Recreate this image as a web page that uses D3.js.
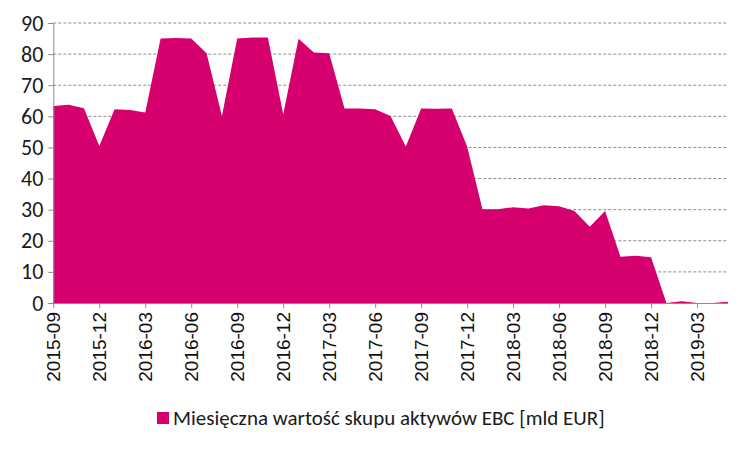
<!DOCTYPE html>
<html><head><meta charset="utf-8">
<script src="https://cdn.jsdelivr.net/npm/d3@7"></script>
<style>
html,body{margin:0;padding:0;background:#fff;}
svg{display:block;}
</style></head>
<body>
<script>
const months = ["2015-09","2015-10","2015-11","2015-12","2016-01","2016-02","2016-03","2016-04","2016-05","2016-06","2016-07","2016-08","2016-09","2016-10","2016-11","2016-12","2017-01","2017-02","2017-03","2017-04","2017-05","2017-06","2017-07","2017-08","2017-09","2017-10","2017-11","2017-12","2018-01","2018-02","2018-03","2018-04","2018-05","2018-06","2018-07","2018-08","2018-09","2018-10","2018-11","2018-12","2019-01","2019-02","2019-03","2019-04","2019-05"];
const values = [63.3,63.7,62.6,50.5,62.3,62.0,61.2,85.0,85.2,85.0,80.3,60.1,85.0,85.3,85.3,60.7,84.9,80.5,80.3,62.5,62.5,62.3,60.1,50.3,62.5,62.4,62.5,50.3,30.1,30.1,30.8,30.4,31.4,31.1,29.6,24.5,29.6,14.9,15.2,14.7,0,0.6,0,0,0.4];
const yTicks = [0,10,20,30,40,50,60,70,80,90];
const tickMonths = months.filter((m,i)=>i%3===0);
const seriesName = "Miesięczna wartość skupu aktywów EBC [mld EUR]";

const W=750,H=450;
const svg=d3.select("body").append("svg").attr("width",W).attr("height",H);
const x=d3.scalePoint().domain(months).range([53.3,727.7]);
const y=d3.scaleLinear().domain([0,90]).range([303,23]);
const color="#d5006d";

// grid
svg.append("g").selectAll("line").data(yTicks.filter(d=>d>0)).join("line")
  .attr("x1",53.3).attr("x2",727.7).attr("y1",d=>y(d)).attr("y2",d=>y(d))
  .attr("stroke","#8c8c8c").attr("stroke-width",1).attr("stroke-dasharray","3,2");

// area
const area=d3.area().x((d,i)=>x(months[i])).y0(y(0)).y1(d=>y(d));
svg.append("path").datum(values).attr("d",area).attr("fill",color);

// y axis
const ya=svg.append("g").attr("transform","translate(53.3,0)")
  .call(d3.axisLeft(y).tickValues(yTicks).tickSize(5).tickPadding(5));
ya.select(".domain").attr("stroke","#8c8c8c");
ya.selectAll(".tick line").attr("stroke","#8c8c8c");
ya.selectAll("text").attr("font-family","Carlito, Calibri, 'Liberation Sans Narrow', 'Open Sans', sans-serif")
  .attr("font-size",22).attr("fill","#1a1a1a");

// x axis
const xa=svg.append("g").attr("transform","translate(0,303)")
  .call(d3.axisBottom(x).tickValues(tickMonths).tickSize(5).tickSizeOuter(0));
xa.select(".domain").attr("stroke","#8c8c8c");
xa.selectAll(".tick line").attr("stroke","#8c8c8c");
xa.selectAll("text").attr("font-family","'Liberation Sans', Arial, sans-serif")
  .attr("font-size",19).attr("fill","#111")
  .attr("transform","rotate(-90)").attr("text-anchor","end")
  .attr("x",-9).attr("y",0).attr("dy","0.35em");

// legend
svg.append("rect").attr("x",157).attr("y",412).attr("width",12).attr("height",12).attr("fill",color);
svg.append("text").attr("x",173).attr("y",425)
  .attr("font-family","Carlito, Calibri, 'Liberation Sans Narrow', 'Open Sans', sans-serif")
  .attr("font-size",21).attr("fill","#1a1a1a").text(seriesName);
</script>
</body></html>
